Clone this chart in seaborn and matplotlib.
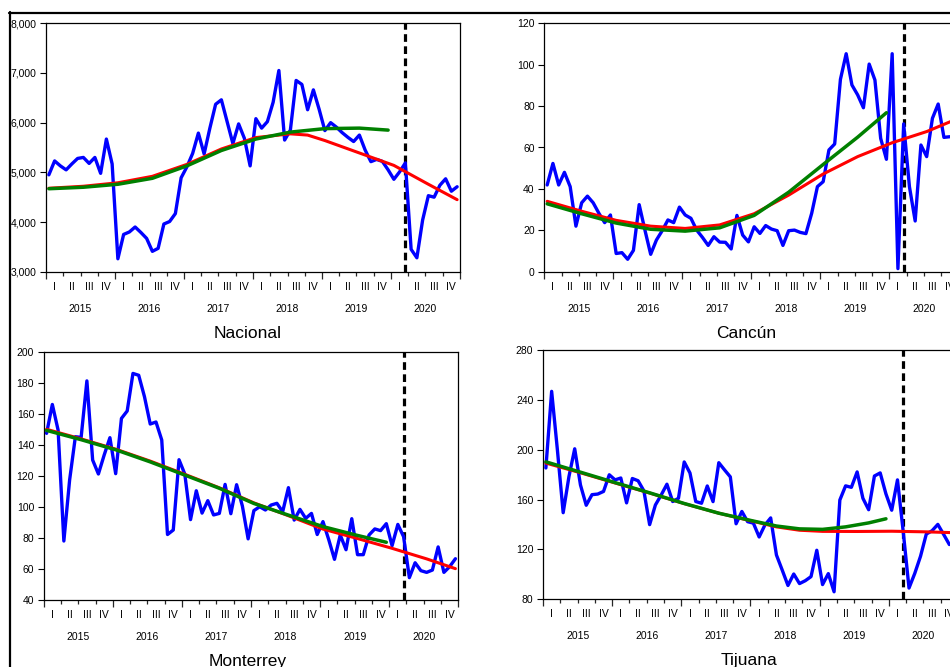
import numpy as np
import pandas as pd
import matplotlib
matplotlib.use("Agg")
import matplotlib.pyplot as plt
from matplotlib.lines import Line2D
from matplotlib.ticker import FixedLocator, FuncFormatter
from matplotlib.transforms import offset_copy
import seaborn as sns

# Calendar labels (monthly series starting January 2015)
years = ["2015", "2016", "2017", "2018", "2019", "2020"]
quarters = ["I", "II", "III", "IV"]
shock_month = 62  # March 2020

# Monthly observations
nacional = [4950, 5230, 5130, 5050, 5170, 5280, 5300, 5180, 5300, 4980, 5670, 5170,
            3260, 3750, 3800, 3900, 3790, 3670, 3410, 3470, 3960, 4010, 4170, 4890,
            5110, 5380, 5790, 5370, 5890, 6370, 6460, 6020, 5580, 5975, 5685, 5130,
            6080, 5890, 6020, 6410, 7050, 5650, 5850, 6850, 6770, 6260, 6660, 6270,
            5840, 6000, 5910, 5800, 5705, 5620, 5750, 5450, 5215, 5260, 5220, 5050,
            4860, 5010, 5190, 3450, 3280, 4040, 4530, 4500, 4740, 4870, 4620, 4710]

cancun = [41.9, 52.3, 41.9, 48.0, 41.1, 22.0, 33.3, 36.5, 33.3, 28.2, 23.7, 27.4,
          8.8, 9.2, 6.0, 10.3, 32.4, 20.1, 8.4, 15.3, 19.8, 25.0, 23.7, 31.2,
          27.4, 25.8, 20.1, 16.6, 12.7, 16.9, 14.3, 14.2, 11.0, 27.2, 17.7, 14.4,
          21.7, 18.5, 22.3, 20.6, 19.8, 12.7, 19.8, 20.1, 19.0, 18.4, 28.2, 41.1,
          43.5, 58.8, 61.7, 92.9, 105.3, 90.2, 85.4, 79.2, 100.3, 92.6, 64.4, 54.3,
          105.3, 1.5, 71.4, 41.1, 24.5, 61.2, 55.6, 74.1, 81.0, 64.9, 65.2]

monterrey = [147.4, 166.0, 149.5, 78.0, 117.3, 145.2, 144.8, 181.2, 130.2, 121.2, 133.4, 144.6,
             121.4, 157.0, 161.8, 186.0, 184.8, 171.0, 153.4, 154.7, 143.1, 82.2, 85.1, 130.4,
             121.2, 91.8, 110.4, 96.0, 104.0, 94.8, 95.8, 114.5, 95.6, 114.3, 100.6, 79.4,
             97.6, 100.1, 98.0, 101.2, 102.3, 96.9, 112.4, 91.5, 98.4, 92.6, 95.8, 82.2,
             90.5, 78.9, 66.2, 81.9, 72.4, 92.4, 69.2, 69.2, 81.9, 85.8, 84.7, 89.2,
             75.0, 88.7, 80.8, 54.4, 64.0, 58.9, 57.8, 59.3, 74.2, 57.8, 61.5, 66.6]

tijuana = [185.4, 247.0, 199.8, 149.4, 178.4, 200.8, 171.7, 155.4, 163.9, 164.4, 166.5, 179.9,
           175.8, 177.3, 157.3, 176.9, 175.1, 167.0, 139.8, 155.6, 163.6, 172.3, 158.4, 161.0,
           190.2, 181.3, 158.4, 157.0, 170.9, 158.3, 189.6, 183.8, 178.2, 140.5, 150.4, 142.2,
           141.0, 129.9, 139.5, 145.2, 115.4, 103.3, 90.9, 100.1, 92.4, 94.7, 98.0, 119.2,
           91.6, 100.4, 85.8, 159.6, 171.0, 169.8, 182.2, 161.0, 151.8, 178.9, 181.4, 164.5,
           151.4, 175.8, 134.0, 88.8, 100.6, 114.4, 132.2, 134.9, 140.0, 132.0, 123.8]

# Trend estimates: month index and level
nac_full_m = [0, 6, 12, 18, 24, 30, 36, 42, 45, 48, 54, 60, 66, 71]
nac_full_v = [4680, 4720, 4790, 4920, 5160, 5470, 5700, 5775, 5750, 5640, 5390, 5140, 4760, 4450]
nac_pre_m = [0, 6, 12, 18, 24, 30, 36, 42, 48, 54, 59]
nac_pre_v = [4670, 4700, 4760, 4880, 5130, 5440, 5670, 5810, 5880, 5890, 5850]

can_full_m = [0, 6, 12, 18, 24, 30, 36, 42, 48, 54, 60, 66, 71]
can_full_v = [34.0, 29.2, 24.8, 22.0, 20.9, 22.6, 28.0, 37.0, 47.2, 55.6, 62.3, 67.7, 73.5]
can_pre_m = [0, 6, 12, 18, 24, 30, 36, 42, 48, 54, 59]
can_pre_v = [32.8, 28.0, 23.5, 20.5, 19.6, 21.2, 27.2, 38.4, 51.8, 65.0, 76.8]

mty_full_m = [0, 6, 12, 18, 24, 30, 36, 42, 48, 54, 60, 66, 71]
mty_full_v = [150.0, 143.8, 137.2, 129.5, 121.0, 112.3, 102.6, 94.3, 85.7, 79.6, 73.3, 66.5, 60.2]
mty_pre_m = [0, 6, 12, 18, 24, 30, 36, 42, 48, 54, 59]
mty_pre_v = [149.3, 143.3, 136.8, 129.0, 120.5, 112.0, 102.2, 94.7, 87.3, 81.6, 77.2]

tij_full_m = [0, 6, 12, 18, 24, 30, 36, 40, 44, 48, 54, 60, 66, 71]
tij_full_v = [189.3, 181.5, 173.3, 165.2, 156.7, 149.0, 142.4, 138.0, 135.3, 134.4, 134.3, 134.5, 134.0, 133.3]
tij_pre_m = [0, 6, 12, 18, 24, 30, 36, 40, 44, 48, 52, 56, 59]
tij_pre_v = [190.3, 182.0, 173.6, 165.4, 156.8, 149.0, 142.7, 138.7, 136.4, 136.0, 138.0, 141.2, 144.5]

sns.set_style("ticks")
plt.rcParams["font.family"] = ["Liberation Sans", "DejaVu Sans"]

W, H = 950, 667
fig = plt.figure(figsize=(W / 100, H / 100), dpi=100)


def place(left, top, right, bottom):
    return [left / W, 1 - bottom / H, (right - left) / W, (bottom - top) / H]


thousands = FuncFormatter(lambda v, _: f"{v:,.0f}")
plain = FuncFormatter(lambda v, _: f"{v:.0f}")

panels = [
    dict(name="Nacional", values=nacional, full=(nac_full_m, nac_full_v), pre=(nac_pre_m, nac_pre_v),
         ylim=(3000, 8000), yticks=range(3000, 8001, 1000), fmt=thousands,
         box=(46, 23.3, 460, 271.7), title_x=0.488),
    dict(name="Cancún", values=cancun, full=(can_full_m, can_full_v), pre=(can_pre_m, can_pre_v),
         ylim=(0, 120), yticks=range(0, 121, 20), fmt=plain,
         box=(544.3, 23.3, 958.3, 271.7), title_x=0.487),
    dict(name="Monterrey", values=monterrey, full=(mty_full_m, mty_full_v), pre=(mty_pre_m, mty_pre_v),
         ylim=(40, 200), yticks=range(40, 201, 20), fmt=plain,
         box=(43.7, 351.7, 458.3, 600), title_x=0.491),
    dict(name="Tijuana", values=tijuana, full=(tij_full_m, tij_full_v), pre=(tij_pre_m, tij_pre_v),
         ylim=(80, 280), yticks=range(80, 281, 40), fmt=plain,
         box=(543, 350.3, 958, 599), title_x=0.497),
]

for p in panels:
    ax = fig.add_axes(place(*p["box"]))
    obs = pd.DataFrame({"month": np.arange(len(p["values"])) + 0.5, "value": p["values"]})
    full = pd.DataFrame({"month": np.array(p["full"][0]) + 0.5, "value": p["full"][1]})
    pre = pd.DataFrame({"month": np.array(p["pre"][0]) + 0.5, "value": p["pre"][1]})

    ax.axvline(shock_month + 0.5, color="black", lw=2.3, ls=(0, (2.4, 1.4)), zorder=1.5)
    sns.lineplot(data=obs, x="month", y="value", ax=ax, color="#0000FF", lw=2.4, zorder=2)
    sns.lineplot(data=full, x="month", y="value", ax=ax, color="#FF0000", lw=2.2, zorder=3)
    sns.lineplot(data=pre, x="month", y="value", ax=ax, color="#008000", lw=2.5, zorder=4)

    ax.set_xlim(0, 72)
    ax.set_ylim(*p["ylim"])
    ax.set_xlabel("")
    ax.set_ylabel("")

    for side in ["top", "right", "bottom", "left"]:
        ax.spines[side].set_visible(True)
        ax.spines[side].set_color("black")
        ax.spines[side].set_linewidth(0.9)

    ax.yaxis.set_major_locator(FixedLocator(list(p["yticks"])))
    ax.yaxis.set_major_formatter(p["fmt"])
    ax.tick_params(axis="y", which="major", left=True, length=4.5, width=0.8, pad=2.4,
                   labelsize=7.5, direction="out", colors="black")

    ax.xaxis.set_major_locator(FixedLocator(list(range(0, 73, 12))))
    ax.xaxis.set_minor_locator(FixedLocator([m for m in range(3, 72, 3) if m % 12]))
    ax.tick_params(axis="x", which="major", bottom=True, length=4.9, width=0.9,
                   direction="out", labelbottom=False)
    ax.tick_params(axis="x", which="minor", bottom=True, length=3.0, width=0.9,
                   direction="out", labelbottom=False)

    q_trans = offset_copy(ax.get_xaxis_transform(), fig=fig, y=-18, units="dots")
    y_trans = offset_copy(ax.get_xaxis_transform(), fig=fig, y=-40, units="dots")
    for yi, yr in enumerate(years):
        for qi, q in enumerate(quarters):
            ax.text(12 * yi + 3 * qi + 1.5, 0, q, transform=q_trans, ha="center",
                    va="baseline", fontsize=7.5, color="black", clip_on=False)
        ax.text(12 * yi + 6, 0, yr, transform=y_trans, ha="center", va="baseline",
                fontsize=7.5, color="black", clip_on=False)

    t_trans = offset_copy(ax.transAxes, fig=fig, y=-66, units="dots")
    ax.text(p["title_x"], 0, p["name"], transform=t_trans, ha="center", va="baseline",
            fontsize=12.5, color="black")

# Outer frame edges
fig.add_artist(Line2D([9 / W, 1], [1 - 13 / H, 1 - 13 / H], transform=fig.transFigure,
                      color="black", lw=1.6))
fig.add_artist(Line2D([10 / W, 10 / W], [1 - 12 / H, 0], transform=fig.transFigure,
                      color="black", lw=1.6))

fig.savefig("out.png", dpi=100)
